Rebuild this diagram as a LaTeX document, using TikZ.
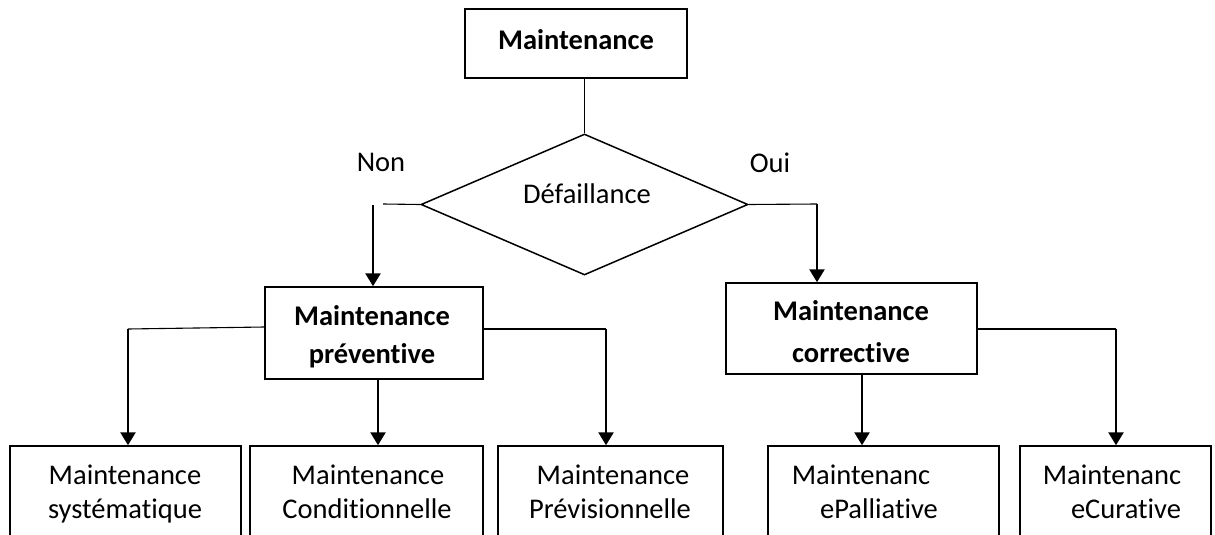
\documentclass[tikz,border=0pt]{standalone}
\usepackage{fontspec}
\setmainfont{Carlito}[Ligatures=NoCommon]
\usetikzlibrary{arrows.meta,shapes.geometric}
\begin{document}
\begin{tikzpicture}[x=1pt,y=-1pt,
  box/.style={draw, line width=1.5pt, inner sep=0pt},
  txt/.style={anchor=base, inner sep=0pt, font=\fontsize{28.5}{34}\selectfont},
  btxt/.style={txt, font=\fontsize{28.5}{34}\selectfont\bfseries},
  thinl/.style={line width=1.1pt},
  midl/.style={line width=1.5pt},
  arr/.style={line width=2.6pt, -{Triangle[width=15pt,length=13pt]}}]
\useasboundingbox (0,0) rectangle (1215,535);
\clip (0,0) rectangle (1215,535);
% boxes
\node[box, minimum width=222pt, minimum height=69pt] (top) at (576,43.5) {};
\node[draw, line width=1.5pt, shape=diamond, inner sep=0pt, minimum width=327pt, minimum height=141pt] (dia) at (584.5,204.5) {};
\node[box, minimum width=218pt, minimum height=92pt] (prev) at (374,333) {};
\node[box, minimum width=251pt, minimum height=91pt] (corr) at (851.5,328.5) {};
\node[box, minimum width=231pt, minimum height=114pt] (b1) at (125.5,503) {};
\node[box, minimum width=233pt, minimum height=114pt] (b2) at (366.5,503) {};
\node[box, minimum width=225pt, minimum height=114pt] (b3) at (610.5,503) {};
\node[box, minimum width=231pt, minimum height=114pt] (b4) at (883.5,503) {};
\node[box, minimum width=191pt, minimum height=114pt] (b5) at (1115.5,503) {};
% texts
\node[btxt] (tTop) at (576,49) {Maintenance};
\node[txt] (tNon) at (381,171) {Non};
\node[txt] (tOui) at (770,172) {Oui};
\node[txt] (tDef) at (587,203) {Défaillance};
\node[btxt] (tP1) at (372,325) {Maintenance};
\node[btxt] (tP2) at (372,363) {préventive};
\node[btxt] (tC1) at (851,320) {Maintenance};
\node[btxt] (tC2) at (851,362) {corrective};
\node[txt] (t11) at (125,484) {Maintenance};
\node[txt] (t12) at (125,518) {systématique};
\node[txt] (t21) at (368,484) {Maintenance};
\node[txt] (t22) at (367,518) {Conditionnelle};
\node[txt] (t31) at (613,484) {Maintenance};
\node[txt] (t32) at (610,518) {Prévisionnelle};
\node[txt] (t41) at (861,484) {Maintenanc};
\node[txt] (t42) at (879,518) {ePalliative};
\node[txt] (t51) at (1112,484) {Maintenanc};
\node[txt] (t52) at (1126,518) {eCurative};
% connectors
\draw[midl] (top.south -| dia.north) -- (dia.north);
\coordinate (nL) at (383,204);
\coordinate (nA) at (373,205);
\draw[thinl] (dia.west) -- (nL);
\draw[arr] (nA) -- (nA |- prev.north);
\coordinate (oR) at (817,204);
\draw[thinl] (dia.east) -- (oR);
\draw[arr] (oR) -- (oR |- corr.north);
\coordinate (pL) at (128,329);
\draw[thinl] ([yshift=6pt]prev.west) -- (pL);
\draw[arr] (pL) -- (pL |- b1.north);
\coordinate (pC) at ([xshift=4pt]prev.south);
\draw[arr] (pC) -- (pC |- b2.north);
\coordinate (pR) at (606,329);
\draw[thinl] ([yshift=4pt]prev.east) -- (pR);
\draw[arr] (pR) -- (pR |- b3.north);
\coordinate (cC) at ([xshift=10.5pt]corr.south);
\draw[arr] (cC) -- (cC |- b4.north);
\coordinate (cR) at (1116,329);
\draw[thinl] (corr.east |- cR) -- (cR);
\draw[arr] (cR) -- (cR |- b5.north);
\end{tikzpicture}
\end{document}
